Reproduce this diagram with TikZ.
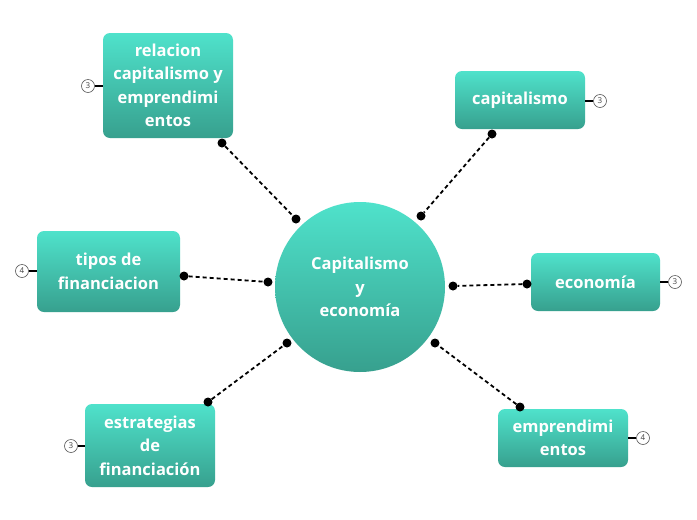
\documentclass[tikz,border=0pt]{standalone}
\usepackage{fontspec}
\setmainfont{Open Sans}
\definecolor{tealtop}{HTML}{4FE2CB}
\definecolor{tealbot}{HTML}{37A08E}

\begin{document}
\begin{tikzpicture}[x=1pt, y=-1pt,
  topic/.style={rounded corners=7pt, top color=tealtop, bottom color=tealbot,
    text=white, font=\bfseries\fontsize{16.5}{23.5}\selectfont, align=center,
    inner sep=0pt},
  count/.style={circle, draw=black!65, fill=white, line width=0.6pt,
    minimum size=13pt, inner sep=0pt, font=\fontsize{8}{8}\selectfont,
    text=black!75},
  dot/.style={circle, fill=black, minimum size=9pt, inner sep=0pt},
  link/.style={line width=1.8pt, dash pattern=on 4pt off 3pt},
  tab/.style={line width=2pt}]

\useasboundingbox[fill=white] (0,0) rectangle (697,520);

% Central topic
\node[circle, top color=tealtop, bottom color=tealbot, minimum size=170pt,
  text=white, font=\bfseries\fontsize{16.5}{23.5}\selectfont, align=center,
  inner sep=0pt] (main) at (360,287) {Capitalismo\\y\\economía};

% Subtopics
\node[topic, minimum width=130pt, minimum height=105pt] (rel) at (168,85.5)
  {relacion\\capitalismo y\\emprendimi\\entos};
\node[topic, minimum width=130pt, minimum height=58pt] (cap) at (520,100)
  {capitalismo};
\node[topic, minimum width=129pt, minimum height=58pt] (eco) at (595.5,282)
  {economía};
\node[topic, minimum width=143pt, minimum height=81pt] (tip) at (108.5,271.5)
  {tipos de\\financiacion};
\node[topic, minimum width=130pt, minimum height=83pt] (est) at (150,445.5)
  {estrategias\\de\\financiación};
\node[topic, minimum width=130pt, minimum height=58pt] (emp) at (563,438)
  {emprendimi\\entos};

% Counters
\node[count] (nrel) at (88,86) {3};
\node[count] (ncap) at (600,101) {3};
\node[count] (neco) at (675,282) {3};
\node[count] (ntip) at (22,271) {4};
\node[count] (nest) at (71,446) {3};
\node[count] (nemp) at (643,438) {4};

\draw[tab] (nrel.east) -- (nrel.east -| rel.west);
\draw[tab] (ncap.west) -- (ncap.west -| cap.east);
\draw[tab] (neco.west) -- (neco.west -| eco.east);
\draw[tab] (ntip.east) -- (ntip.east -| tip.west);
\draw[tab] (nest.east) -- (nest.east -| est.west);
\draw[tab] (nemp.west) -- (nemp.west -| emp.east);

% Connector ends
\node[dot] (a1) at (222,143) {};  \node[dot] (b1) at (296,219) {};
\node[dot] (a2) at (492,134) {};  \node[dot] (b2) at (421,216) {};
\node[dot] (a3) at (184,276) {};  \node[dot] (b3) at (268,282) {};
\node[dot] (a4) at (527,284) {};  \node[dot] (b4) at (453,286) {};
\node[dot] (a5) at (208,402) {};  \node[dot] (b5) at (287,343) {};
\node[dot] (a6) at (520,407) {};  \node[dot] (b6) at (435,343) {};

\foreach \i in {1,...,6}
  \draw[link] (a\i) -- (b\i);

\end{tikzpicture}
\end{document}
